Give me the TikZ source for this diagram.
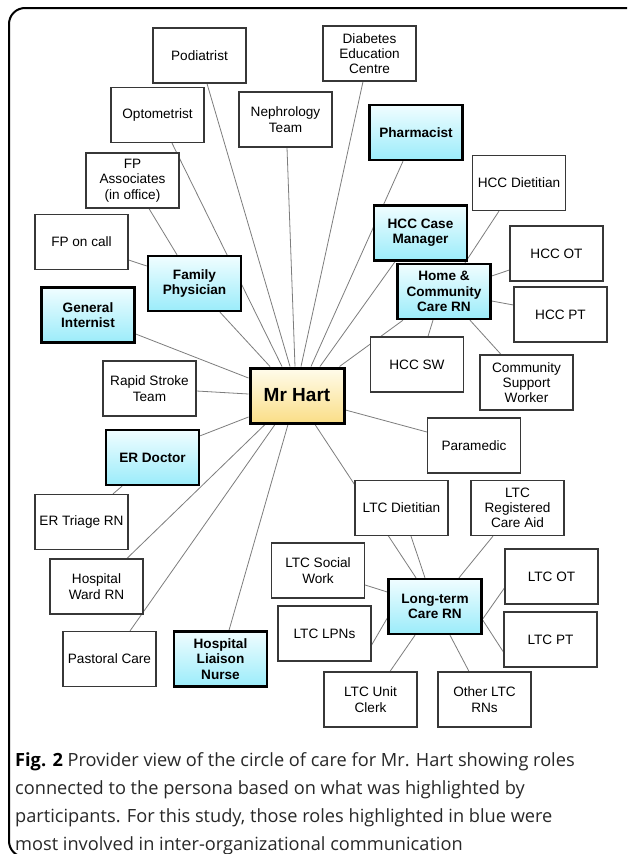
\documentclass[tikz,border=0pt]{standalone}
\usepackage{fontspec}
\setmainfont{Liberation Sans}
\newfontfamily\capfont{Open Sans}
\usetikzlibrary{backgrounds}
\definecolor{bluetop}{RGB}{240,253,255}
\definecolor{bluebot}{RGB}{155,236,250}
\definecolor{yeltop}{RGB}{255,252,236}
\definecolor{yelbot}{RGB}{250,222,135}
\definecolor{edgegray}{RGB}{125,125,125}
\definecolor{plainborder}{RGB}{55,55,55}
\definecolor{captext}{RGB}{40,40,40}
\tikzset{
  plainbox/.style={draw=plainborder, line width=1.2pt, fill=white,
    minimum width=93pt, minimum height=55pt, inner sep=2pt, align=center,
    font=\fontsize{13.6}{15.3}\selectfont},
  bluebox/.style={plainbox, draw=black, line width=2.4pt,
    top color=bluetop, bottom color=bluebot,
    font=\bfseries\fontsize{13.6}{15.3}\selectfont},
  hartbox/.style={plainbox, draw=black, line width=3pt, minimum width=94pt,
    top color=yeltop, bottom color=yelbot,
    font=\bfseries\fontsize{19}{22}\selectfont},
  edge/.style={draw=edgegray, line width=0.8pt},
  frame/.style={draw=black, line width=2pt, rounded corners=16pt}
}
\begin{document}
\begin{tikzpicture}[x=1pt, y=-1pt]
\useasboundingbox (0,0) rectangle (627,854);
\begin{scope}
\clip (0,0) rectangle (627,854);
\draw[frame] (9,8) rectangle (642,857);
\end{scope}

\node[plainbox] (pod) at (199.5,55.5) {Podiatrist};
\node[plainbox] (opt) at (157.5,115) {Optometrist};
\node[plainbox] (neph) at (285.5,119.5) {Nephrology\\Team};
\node[plainbox] (dec) at (369.5,53.5) {Diabetes\\Education\\Centre};
\node[plainbox] (fpa) at (132.5,180.5) {FP\\Associates\\(in office)};
\node[bluebox] (pharm) at (416,132.5) {Pharmacist};
\node[plainbox] (hccdiet) at (519,183) {HCC Dietitian};
\node[plainbox] (fpcall) at (81.5,242) {FP on call};
\node[bluebox] (fp) at (194.5,283.5) {Family\\Physician};
\node[bluebox] (gi) at (88,315) {General\\Internist};
\node[plainbox] (rst) at (149.5,388.5) {Rapid Stroke\\Team};
\node[hartbox] (hart) at (297,395.5) {Mr Hart};
\node[bluebox] (hcccm) at (420.5,233) {HCC Case\\Manager};
\node[bluebox] (hcrn) at (444,291.5) {Home \&\\Community\\Care RN};
\node[plainbox] (hccot) at (556.5,253.5) {HCC OT};
\node[plainbox] (hccpt) at (560.5,314.5) {HCC PT};
\node[plainbox] (hccsw) at (417,364.5) {HCC SW};
\node[plainbox] (csw) at (526.5,382.5) {Community\\Support\\Worker};
\node[plainbox] (para) at (474,445.5) {Paramedic};
\node[bluebox] (erdoc) at (152.5,457.5) {ER Doctor};
\node[plainbox] (ertri) at (81.5,522) {ER Triage RN};
\node[plainbox] (hwrn) at (96.5,586.5) {Hospital\\Ward RN};
\node[plainbox] (past) at (109.5,659) {Pastoral Care};
\node[bluebox] (hln) at (220.5,659) {Hospital\\Liaison\\Nurse};
\node[plainbox] (ltcsw) at (318,570.5) {LTC Social\\Work};
\node[plainbox] (ltclpn) at (324.5,633.5) {LTC LPNs};
\node[plainbox] (ltcdiet) at (401.5,508) {LTC Dietitian};
\node[plainbox] (ltcrca) at (517.5,508) {LTC\\Registered\\Care Aid};
\node[bluebox] (ltcrn) at (435,606.5) {Long-term\\Care RN};
\node[plainbox] (ltcot) at (551.5,576.5) {LTC OT};
\node[plainbox] (ltcpt) at (550.5,639.5) {LTC PT};
\node[plainbox] (ltcuc) at (370.5,699.5) {LTC Unit\\Clerk};
\node[plainbox] (oltc) at (484.5,699.5) {Other LTC\\RNs};

\node[anchor=north west, inner sep=0pt, align=left, text=captext,
  font=\capfont\fontsize{18.2}{28}\selectfont] (cap) at (15,752)
  {\textcolor{black}{\textbf{Fig. 2}} Provider view of the circle of care for Mr. Hart showing roles\\
   connected to the persona based on what was highlighted by\\
   participants. For this study, those roles highlighted in blue were\\
   most involved in inter-organizational communication};

\begin{scope}[on background layer]
\fill[white] (0,0) rectangle (627,854);
\draw[edge] ([xshift=7.5pt]pod.south) -- ([xshift=-7pt]hart.north);
\draw[edge] ([xshift=14.5pt]opt.south) -- ([xshift=-15pt]hart.north);
\draw[edge] ([xshift=1.5pt]neph.south) -- ([xshift=-2pt]hart.north);
\draw[edge] ([xshift=-6.5pt]dec.south) -- ([xshift=4pt]hart.north);
\draw[edge] ([xshift=-13pt]pharm.south) -- ([xshift=14pt]hart.north);
\draw[edge] ([xshift=-25.5pt]hcccm.south) -- ([xshift=23pt]hart.north);
\draw[edge] ([xshift=-41pt]hcrn.south) -- ([xshift=-6pt]hart.north east);
\draw[edge] ([xshift=25.5pt]fp.south) -- ([xshift=-27pt]hart.north);
\draw[edge] ([xshift=16.5pt]fpa.south) -- ([xshift=-17.5pt]fp.north);
\draw[edge] ([yshift=-18pt]fpcall.east) -- ([yshift=17.5pt]fp.west);
\draw[edge] ([yshift=-19pt]gi.east) -- ([yshift=17.5pt]hart.west);
\draw[edge] ([yshift=-2.5pt]rst.east) -- ([yshift=1.5pt]hart.west);
\draw[edge] ([yshift=-7pt]erdoc.north east) -- ([yshift=-21.5pt]hart.west);
\draw[edge] ([xshift=31.5pt]ertri.north) -- ([xshift=-30.5pt]erdoc.south);
\draw[edge] ([xshift=30.5pt]hwrn.north) -- ([xshift=-32pt]hart.south);
\draw[edge] ([xshift=20.5pt]past.north) -- ([xshift=-22pt]hart.south);
\draw[edge] ([xshift=8.5pt]hln.north) -- ([xshift=-9pt]hart.south);
\draw[edge] ([xshift=18pt]hart.south) -- ([xshift=-19pt]ltcrn.north);
\draw[edge] ([xshift=9.5pt]ltcdiet.south) -- ([xshift=-10pt]ltcrn.north);
\draw[edge] ([yshift=-14.5pt]hart.east) -- ([yshift=13.5pt]para.west);
\draw[edge] ([xshift=-24.5pt]ltcrca.south) -- ([xshift=24pt]ltcrn.north);
\draw[edge] ([yshift=-14.5pt]ltcsw.east) -- ([yshift=14.5pt]ltcrn.west);
\draw[edge] ([yshift=-11.5pt]ltclpn.east) -- ([yshift=-11.5pt]ltcrn.west);
\draw[edge] ([yshift=-11.5pt]ltcot.west) -- ([yshift=-12.5pt]ltcrn.east);
\draw[edge] ([yshift=-12.5pt]ltcpt.west) -- ([yshift=-13.5pt]ltcrn.east);
\draw[edge] ([xshift=19.5pt]ltcuc.north) -- ([xshift=-20pt]ltcrn.south);
\draw[edge] ([xshift=-15.5pt]oltc.north) -- ([xshift=15pt]ltcrn.south);
\draw[edge] ([xshift=-20pt]hccdiet.south) -- ([xshift=21pt]hcrn.north);
\draw[edge] ([xshift=11pt]hccsw.north) -- ([xshift=-11pt]hcrn.south);
\draw[edge] ([xshift=-25.5pt]csw.north) -- ([xshift=26pt]hcrn.south);
\draw[edge] ([yshift=-16.5pt]hccot.west) -- ([yshift=15.5pt]hcrn.east);
\draw[edge] ([yshift=9.5pt]hccpt.west) -- ([yshift=-9.5pt]hcrn.east);
\end{scope}
\end{tikzpicture}
\end{document}
